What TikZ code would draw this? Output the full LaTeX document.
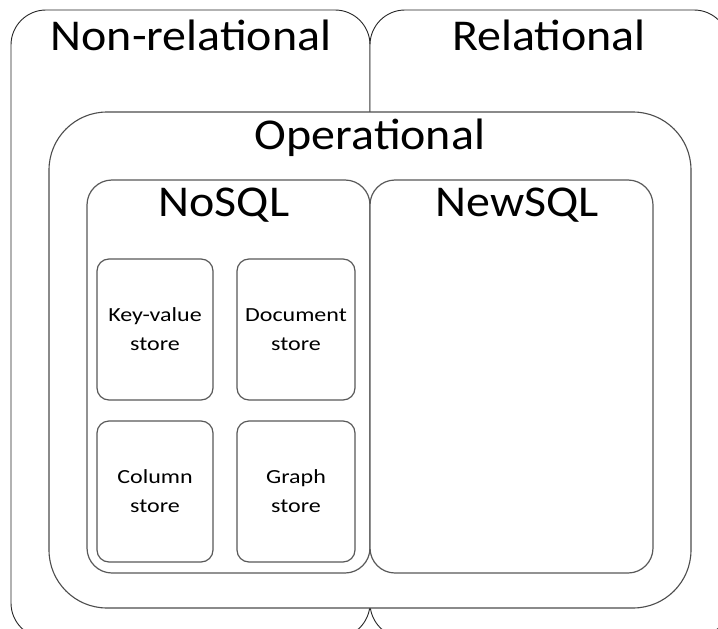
\documentclass[tikz,border=0pt]{standalone}
\usepackage{fontspec}
\setmainfont{Carlito}
\newfontfamily\titlefont[FakeStretch=1.09]{Carlito}
\newfontfamily\storefont[FakeStretch=1.2]{Carlito}
\begin{document}
\begin{tikzpicture}[x=1pt,y=-1pt,
  outerbox/.style={draw=black!85, line width=0.9pt, fill=white, rounded corners=35pt},
  opbox/.style={draw=black!70, line width=1.1pt, fill=white, rounded corners=58pt},
  groupbox/.style={draw=black!65, line width=1.2pt, fill=white, rounded corners=25pt},
  storebox/.style={draw=black!65, line width=1.2pt, fill=white, rounded corners=12pt},
  title/.style={font=\titlefont\fontsize{44}{50}\selectfont, anchor=base, inner sep=0pt},
  storelabel/.style={font=\storefont\fontsize{20}{29}\selectfont, align=center, inner sep=0pt}
]
\useasboundingbox (0,0) rectangle (718,629);
\clip (0,0) rectangle (718,629);

% outer categories
\draw[outerbox] (11,10) rectangle (370,638);
\draw[outerbox] (370,10) rectangle (729,638);
\node[title] (nonrel) at (191,50) {Non-relational};
\node[title] (rel) at (549,50) {Relational};

% operational databases
\draw[opbox] (49,112) rectangle (691,608);
\node[title] (oper) at (370,149) {Operational};

% NoSQL and NewSQL
\draw[groupbox] (87,180) rectangle (370,573);
\draw[groupbox] (370,180) rectangle (653,573);
\node[title] (nosql) at (224,216) {NoSQL};
\node[title] (newsql) at (517,216) {NewSQL};

% NoSQL store types
\node[storebox, minimum width=116pt, minimum height=141pt] (kv)  at (155,329.5) {};
\node[storebox, minimum width=118pt, minimum height=141pt] (doc) at (296,329.5) {};
\node[storebox, minimum width=116pt, minimum height=141pt] (col) at (155,491.5) {};
\node[storebox, minimum width=118pt, minimum height=141pt] (gr)  at (296,491.5) {};
\node[storelabel] (kvt)  at (kv)  {Key-value\\store};
\node[storelabel] (doct) at (doc) {Document\\store};
\node[storelabel] (colt) at (col) {Column\\store};
\node[storelabel] (grt)  at (gr)  {Graph\\store};
\end{tikzpicture}
\end{document}
